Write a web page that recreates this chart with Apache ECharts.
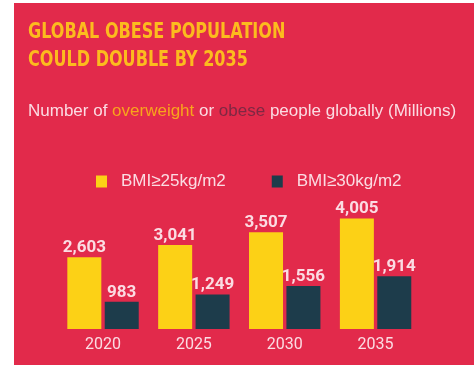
<!DOCTYPE html>
<html>
<head>
<meta charset="utf-8">
<script src="https://cdn.jsdelivr.net/npm/echarts@6/dist/echarts.min.js"></script>
<style>
  html, body { margin: 0; padding: 0; background: #ffffff; }
  #chart { width: 474px; height: 365px; }
</style>
</head>
<body>
<div id="chart"></div>
<script>
// Projected overweight / obese population, millions
const years = ['2020', '2025', '2030', '2035'];
const overweight = [2603, 3041, 3507, 4005];   // BMI >= 25
const obese = [983, 1249, 1556, 1914];         // BMI >= 30
const seriesNames = ['BMI≥25kg/m2', 'BMI≥30kg/m2'];
const headline = ['GLOBAL OBESE POPULATION', 'COULD DOUBLE BY 2035'];

const BG = '#e22a4b';
const TEXT = '#fbdce3';
const YELLOW = '#fcd116';
const NAVY = '#1d3c4b';
const COND = '"DejaVu Sans Condensed", "DejaVu Sans", sans-serif';
const ROBOTO = 'Roboto, "Liberation Sans", sans-serif';
const SANS = '"Liberation Sans", Arial, sans-serif';

const fmt = v => Number(v).toLocaleString('en-US');

const valueLabel = {
  show: true,
  position: 'top',
  distance: 1,
  color: TEXT,
  fontFamily: ROBOTO,
  fontWeight: 'bold',
  fontSize: 17,
  formatter: p => fmt(p.value)
};

// Headline lines, drawn condensed
const headlineGraphics = headline.map((line, i) => ({
  type: 'text',
  x: 28,
  y: 22 + i * 28,
  scaleX: 0.85,
  style: {
    text: line,
    fill: '#fcbb1e',
    font: 'bold 21px ' + COND,
    textVerticalAlign: 'top'
  }
}));

const chart = echarts.init(document.getElementById('chart'), null, { renderer: 'canvas' });
chart.setOption({
  backgroundColor: '#ffffff',
  animation: false,
  graphic: [{
    type: 'rect',
    z: -10,
    shape: { x: 14, y: 3, width: 460, height: 362 },
    style: { fill: BG }
  }].concat(headlineGraphics),
  title: {
    text: '{a|Number of }{o|overweight}{a| or }{b|obese}{a| people globally (Millions)}',
    left: 28,
    top: 101,
    padding: 0,
    textStyle: {
      rich: {
        a: { color: TEXT, fontFamily: SANS, fontWeight: 'normal', fontSize: 17, lineHeight: 20 },
        o: { color: '#f8a51c', fontFamily: SANS, fontWeight: 'normal', fontSize: 17, lineHeight: 20 },
        b: { color: '#7e2843', fontFamily: SANS, fontWeight: 'normal', fontSize: 17, lineHeight: 20 }
      }
    }
  },
  legend: {
    left: 96,
    top: 173,
    padding: 0,
    icon: 'rect',
    itemWidth: 11,
    itemHeight: 12,
    itemGap: 46,
    data: seriesNames,
    textStyle: {
      color: TEXT,
      fontFamily: SANS,
      fontSize: 17,
      padding: [0, 0, 0, 9]
    }
  },
  grid: { left: 57.6, right: 53, top: 191, bottom: 36 },
  xAxis: {
    type: 'category',
    data: years,
    axisLine: { show: false },
    axisTick: { show: false },
    axisLabel: {
      color: TEXT,
      fontFamily: ROBOTO,
      fontSize: 16,
      margin: 8
    }
  },
  yAxis: {
    type: 'value',
    min: 0,
    max: 5000,
    show: false,
    splitLine: { show: false }
  },
  series: [{
    name: seriesNames[0],
    type: 'bar',
    data: overweight,
    barWidth: 34,
    barGap: '10%',
    itemStyle: { color: YELLOW },
    label: valueLabel
  }, {
    name: seriesNames[1],
    type: 'bar',
    data: obese,
    barWidth: 34,
    barGap: '10%',
    itemStyle: { color: NAVY },
    label: valueLabel
  }]
});
</script>
</body>
</html>
